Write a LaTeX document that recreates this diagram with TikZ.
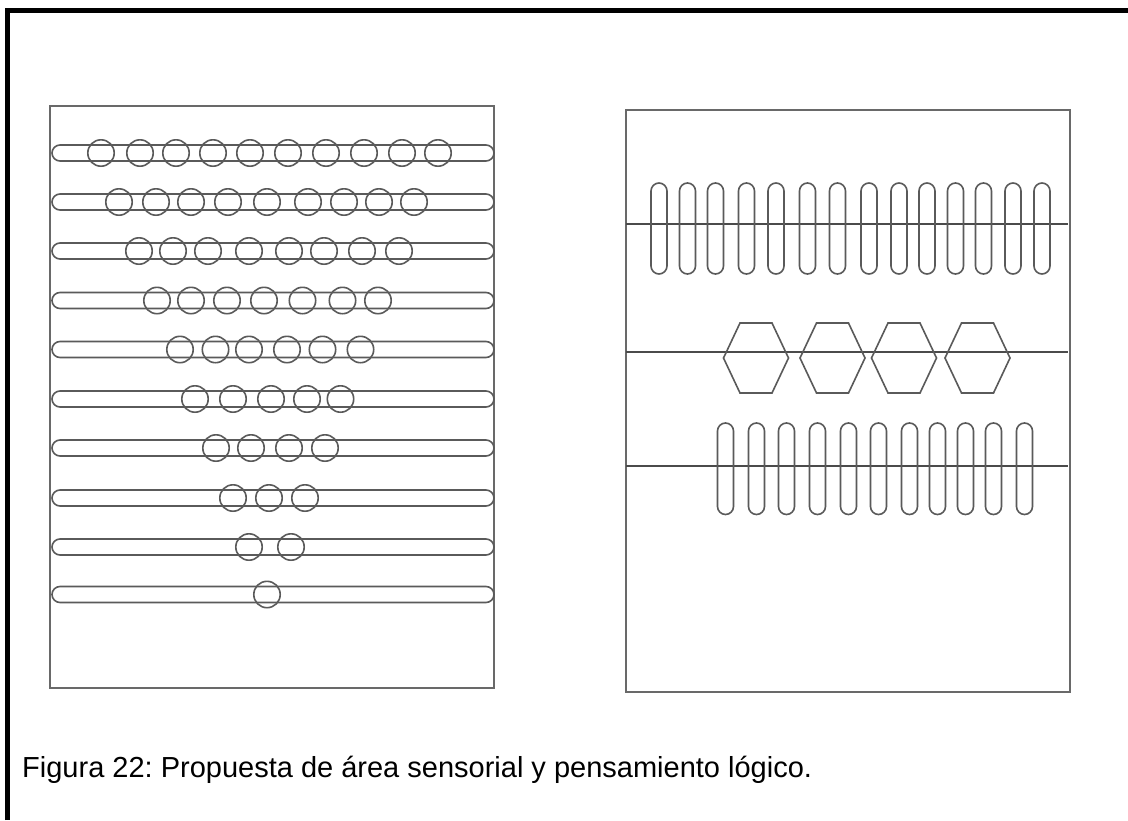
\documentclass[tikz,border=0pt]{standalone}
\usepackage{fontspec}
\setmainfont{Liberation Sans}
\frenchspacing
\begin{document}
\begin{tikzpicture}[x=1pt,y=-1pt,
  frame/.style={line width=5pt,black},
  boxline/.style={line width=1.8pt,draw={rgb,255:red,105;green,105;blue,105}},
  shapeline/.style={line width=1.6pt,draw={rgb,255:red,90;green,90;blue,90}},
  thinline/.style={line width=1.5pt,draw={rgb,255:red,75;green,75;blue,75}},
  caption/.style={anchor=base west,inner sep=0pt,font=\fontsize{29}{33}\selectfont}]
\useasboundingbox (0,0) rectangle (1128,820);
\fill[white] (0,0) rectangle (1128,820);
% outer frame
\draw[frame] (7,820) -- (7,10) -- (1128,10);
% left panel
\draw[boxline] (50,106) rectangle (494,688);
\foreach \y/\xs in {
  153/{101,140,176,213,250,288,326,364,402,438},
  202/{119,156,191,228,267,308,344,379,414},
  251/{139,173,208,249,289,324,362,399},
  300.5/{157,191,227,264,302.5,342.5,378},
  349.5/{180,215.5,249,287,322.5,360.5},
  399/{195,233,271,307,340.5},
  448/{216,251,289,325},
  498/{233,269,305},
  547/{249,291},
  594.5/{267}}{
  \draw[shapeline,rounded corners=8pt] (52,\y-8) rectangle (494,\y+8);
  \foreach \x in \xs {\draw[shapeline] (\x,\y) circle (13.2);}
}
% right panel
\draw[boxline] (626,110) rectangle (1070,692);
% top row of bars
\draw[thinline] (626,224) -- (1068,224);
\foreach \x in {659,687.5,715.5,746.5,776,807.5,837.5,869,899,927,955.5,983.5,1013,1042}
  {\draw[shapeline,rounded corners=8pt] (\x-8,183) rectangle (\x+8,274);}
% hexagons
\draw[thinline] (626,352) -- (1068,352);
\foreach \x in {756,832.5,904,977.5}
  {\draw[shapeline] (\x-32.5,358) -- (\x-16,323) -- (\x+16,323) -- (\x+32.5,358) -- (\x+16,393) -- (\x-16,393) -- cycle;}
% bottom row of bars
\draw[thinline] (626,466) -- (1068,466);
\foreach \x in {725.5,756.5,786.5,817.5,848.5,878.5,909.5,937.5,965.5,993.5,1024.5}
  {\draw[shapeline,rounded corners=8pt] (\x-8,423) rectangle (\x+8,514.5);}
% caption
\node[caption] (cap) at (22,777) {Figura 22: Propuesta de área sensorial y pensamiento lógico.};
\end{tikzpicture}
\end{document}
